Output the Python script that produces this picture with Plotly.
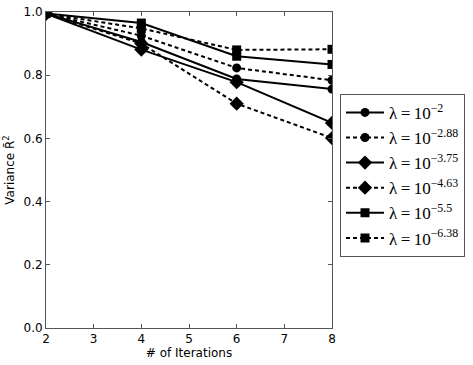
import plotly.graph_objects as go

ITERATIONS = [2, 4, 6, 8]

LAMBDA_LABELS = ["−2", "−2.88", "−3.75", "−4.63", "−5.5", "−6.38"]
SYMBOLS = ["circle", "circle", "diamond", "diamond", "square", "square"]
DASHES = ["solid", "dash", "solid", "dash", "solid", "dash"]

R2_VALUES = [
    [0.995, 0.905, 0.788, 0.756],
    [0.995, 0.925, 0.823, 0.784],
    [0.995, 0.881, 0.778, 0.649],
    [0.995, 0.900, 0.710, 0.601],
    [0.995, 0.965, 0.860, 0.834],
    [0.995, 0.948, 0.880, 0.882],
]

fig = go.Figure()
for lab, sym, dash, vals in zip(LAMBDA_LABELS, SYMBOLS, DASHES, R2_VALUES):
    fig.add_trace(go.Scatter(
        x=ITERATIONS,
        y=vals,
        mode="lines+markers",
        name=f"λ\u2009=\u200910<sup>{lab}</sup>",
        line=dict(color="black", width=2, dash="4px,3px" if dash == "dash" else "solid"),
        marker=dict(symbol=sym, size=11 if sym == "diamond" else 9, color="black"),
    ))

axis_common = dict(
    showgrid=False,
    zeroline=False,
    showline=True,
    linecolor="#555",
    linewidth=1,
    mirror="ticks",
    ticks="inside",
    ticklen=4,
    tickcolor="#555",
    automargin=False,
    tickfont=dict(family="DejaVu Sans", size=12, color="black"),
)

fig.update_layout(
    width=473,
    height=365,
    margin=dict(l=46, r=141, t=12, b=37, autoexpand=False),
    plot_bgcolor="white",
    paper_bgcolor="white",
    xaxis=dict(range=[2, 8], dtick=1,
               title=dict(text="# of Iterations", standoff=0,
                          font=dict(family="DejaVu Sans", size=12, color="black")),
               **axis_common),
    yaxis=dict(range=[0, 1], dtick=0.2, tickformat=".1f",
               title=dict(text="Variance R̄<sup>2</sup>", standoff=6,
                          font=dict(family="DejaVu Sans", size=12, color="black")),
               **axis_common),
    legend=dict(
        x=1.028, y=0.741, xanchor="left", yanchor="top",
        bordercolor="#555", borderwidth=1,
        font=dict(family="Liberation Serif", size=17, color="black"),
        itemwidth=38,
        tracegroupgap=0,
    ),
)

# drop the default body margin so the figure sits at the page corner
fig.write_html("out.html", config={"displayModeBar": False},
               post_script="document.body.style.margin='0';")
